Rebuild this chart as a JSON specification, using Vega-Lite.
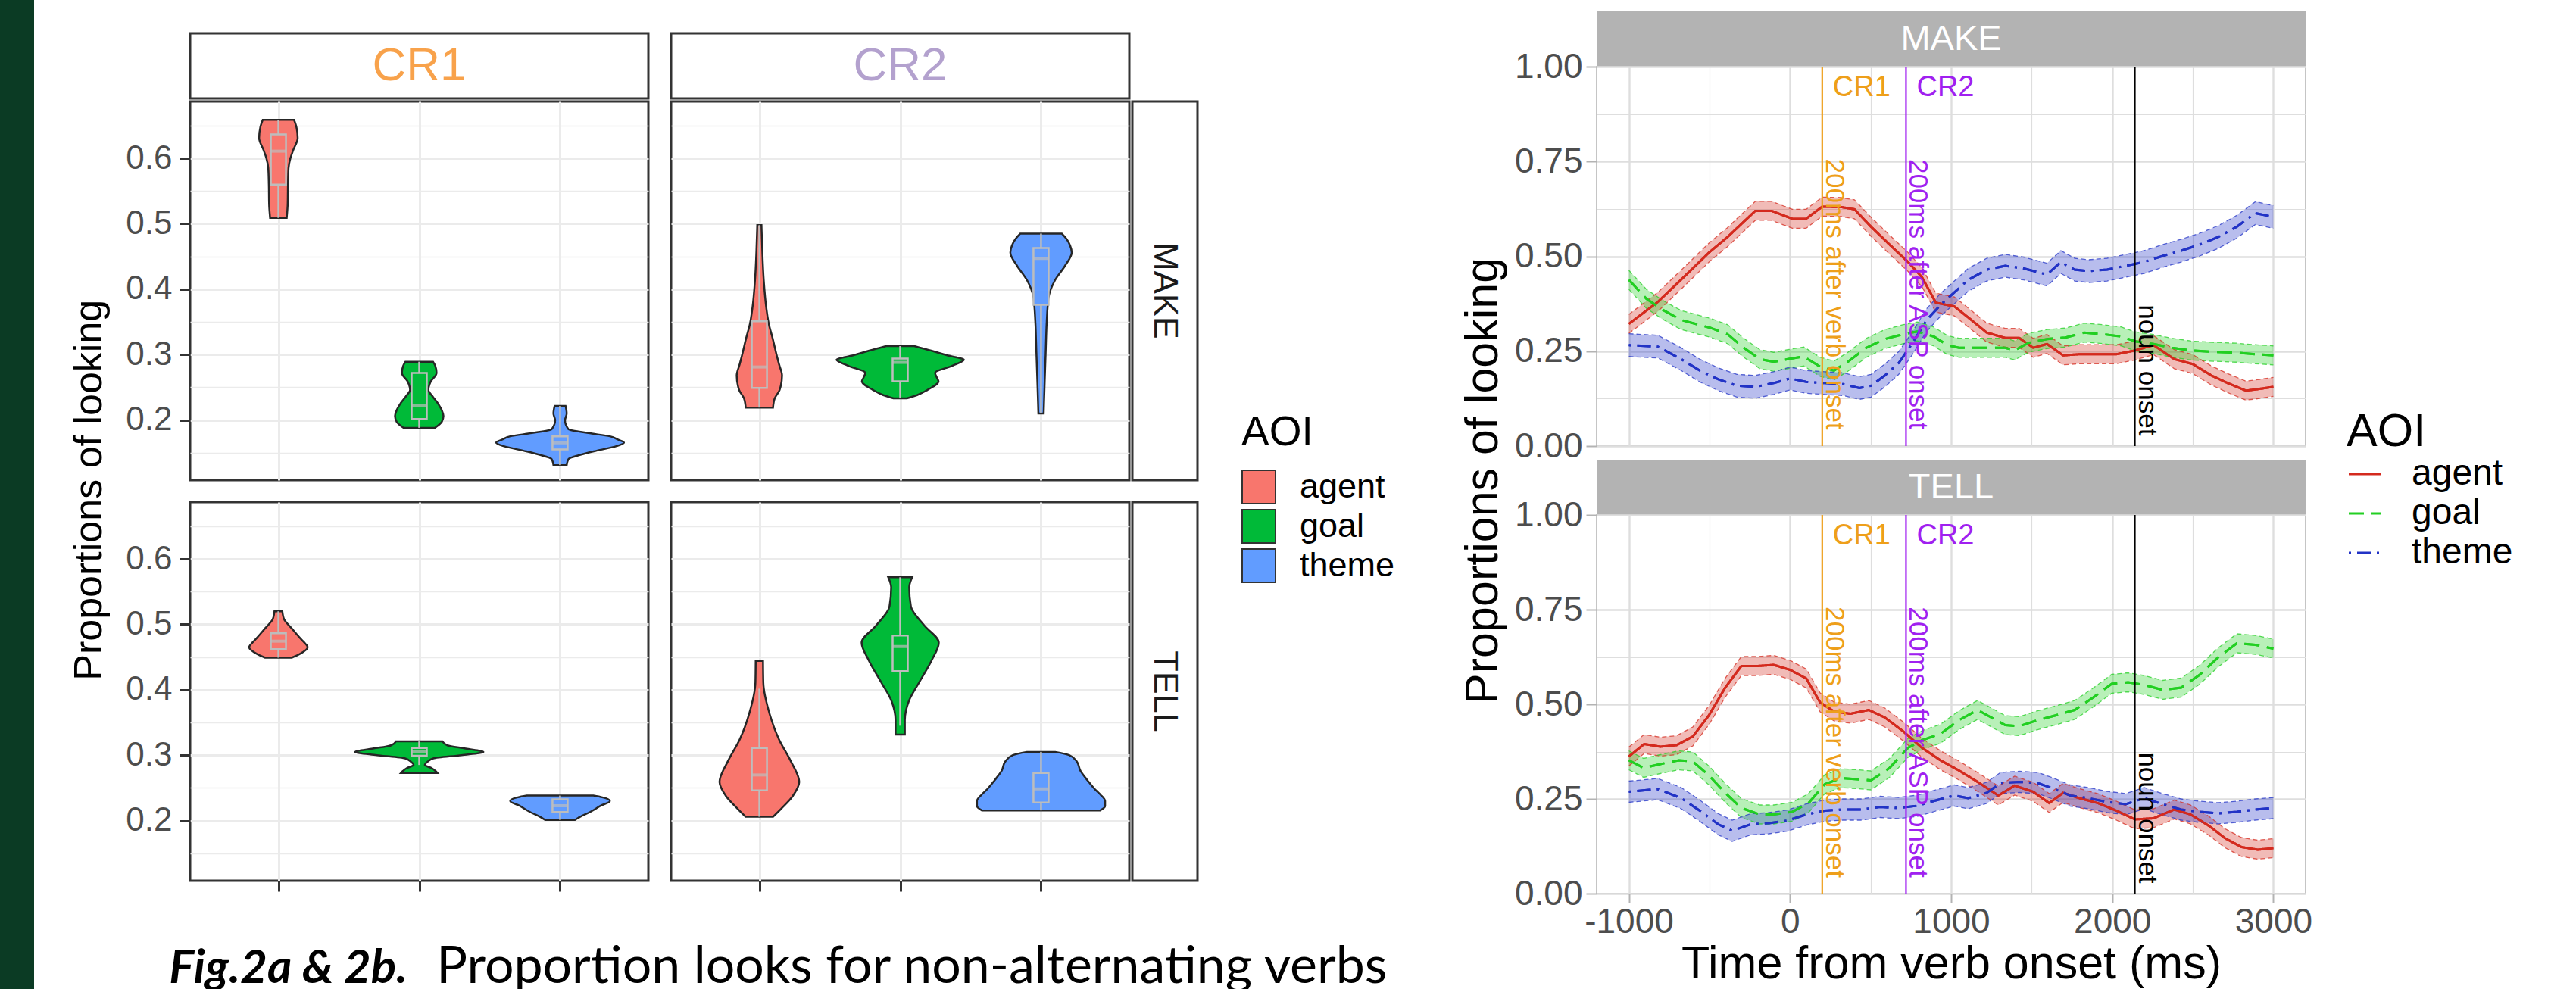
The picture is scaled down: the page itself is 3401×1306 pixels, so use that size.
{
"$schema":"https://vega.github.io/schema/vega-lite/v6.json",
"padding":0,
"background":"white",
"config":{"font":"Liberation Sans","view":{"stroke":null}},
"datasets":{
"violin":[
{"cr":"CR1","verb":"MAKE","aoi":"agent","p":0.509,"lo":0.941,"hi":1.059},
{"cr":"CR1","verb":"MAKE","aoi":"agent","p":0.53,"lo":0.934,"hi":1.066},
{"cr":"CR1","verb":"MAKE","aoi":"agent","p":0.56,"lo":0.932,"hi":1.068},
{"cr":"CR1","verb":"MAKE","aoi":"agent","p":0.585,"lo":0.928,"hi":1.072},
{"cr":"CR1","verb":"MAKE","aoi":"agent","p":0.6,"lo":0.915,"hi":1.085},
{"cr":"CR1","verb":"MAKE","aoi":"agent","p":0.613,"lo":0.894,"hi":1.106},
{"cr":"CR1","verb":"MAKE","aoi":"agent","p":0.631,"lo":0.863,"hi":1.137},
{"cr":"CR1","verb":"MAKE","aoi":"agent","p":0.648,"lo":0.872,"hi":1.128},
{"cr":"CR1","verb":"MAKE","aoi":"agent","p":0.659,"lo":0.889,"hi":1.111},
{"cr":"CR1","verb":"MAKE","aoi":"goal","p":0.188,"lo":1.889,"hi":2.111},
{"cr":"CR1","verb":"MAKE","aoi":"goal","p":0.197,"lo":1.84,"hi":2.16},
{"cr":"CR1","verb":"MAKE","aoi":"goal","p":0.206,"lo":1.828,"hi":2.172},
{"cr":"CR1","verb":"MAKE","aoi":"goal","p":0.215,"lo":1.84,"hi":2.16},
{"cr":"CR1","verb":"MAKE","aoi":"goal","p":0.224,"lo":1.863,"hi":2.137},
{"cr":"CR1","verb":"MAKE","aoi":"goal","p":0.236,"lo":1.905,"hi":2.095},
{"cr":"CR1","verb":"MAKE","aoi":"goal","p":0.246,"lo":1.935,"hi":2.065},
{"cr":"CR1","verb":"MAKE","aoi":"goal","p":0.258,"lo":1.92,"hi":2.08},
{"cr":"CR1","verb":"MAKE","aoi":"goal","p":0.272,"lo":1.877,"hi":2.123},
{"cr":"CR1","verb":"MAKE","aoi":"goal","p":0.282,"lo":1.885,"hi":2.115},
{"cr":"CR1","verb":"MAKE","aoi":"goal","p":0.289,"lo":1.902,"hi":2.098},
{"cr":"CR1","verb":"MAKE","aoi":"theme","p":0.131,"lo":2.953,"hi":3.047},
{"cr":"CR1","verb":"MAKE","aoi":"theme","p":0.14,"lo":2.941,"hi":3.059},
{"cr":"CR1","verb":"MAKE","aoi":"theme","p":0.147,"lo":2.85,"hi":3.15},
{"cr":"CR1","verb":"MAKE","aoi":"theme","p":0.153,"lo":2.74,"hi":3.26},
{"cr":"CR1","verb":"MAKE","aoi":"theme","p":0.16,"lo":2.6,"hi":3.4},
{"cr":"CR1","verb":"MAKE","aoi":"theme","p":0.1654,"lo":2.546,"hi":3.454},
{"cr":"CR1","verb":"MAKE","aoi":"theme","p":0.17,"lo":2.59,"hi":3.41},
{"cr":"CR1","verb":"MAKE","aoi":"theme","p":0.175,"lo":2.646,"hi":3.354},
{"cr":"CR1","verb":"MAKE","aoi":"theme","p":0.18,"lo":2.8,"hi":3.2},
{"cr":"CR1","verb":"MAKE","aoi":"theme","p":0.186,"lo":2.941,"hi":3.059},
{"cr":"CR1","verb":"MAKE","aoi":"theme","p":0.1995,"lo":2.965,"hi":3.035},
{"cr":"CR1","verb":"MAKE","aoi":"theme","p":0.21,"lo":2.953,"hi":3.047},
{"cr":"CR1","verb":"MAKE","aoi":"theme","p":0.2215,"lo":2.961,"hi":3.039},
{"cr":"CR2","verb":"MAKE","aoi":"agent","p":0.219,"lo":0.903,"hi":1.097},
{"cr":"CR2","verb":"MAKE","aoi":"agent","p":0.233,"lo":0.891,"hi":1.109},
{"cr":"CR2","verb":"MAKE","aoi":"agent","p":0.246,"lo":0.856,"hi":1.144},
{"cr":"CR2","verb":"MAKE","aoi":"agent","p":0.268,"lo":0.839,"hi":1.161},
{"cr":"CR2","verb":"MAKE","aoi":"agent","p":0.285,"lo":0.86,"hi":1.14},
{"cr":"CR2","verb":"MAKE","aoi":"agent","p":0.299,"lo":0.877,"hi":1.123},
{"cr":"CR2","verb":"MAKE","aoi":"agent","p":0.325,"lo":0.906,"hi":1.094},
{"cr":"CR2","verb":"MAKE","aoi":"agent","p":0.348,"lo":0.934,"hi":1.066},
{"cr":"CR2","verb":"MAKE","aoi":"agent","p":0.37,"lo":0.95,"hi":1.05},
{"cr":"CR2","verb":"MAKE","aoi":"agent","p":0.414,"lo":0.969,"hi":1.031},
{"cr":"CR2","verb":"MAKE","aoi":"agent","p":0.458,"lo":0.979,"hi":1.021},
{"cr":"CR2","verb":"MAKE","aoi":"agent","p":0.498,"lo":0.985,"hi":1.015},
{"cr":"CR2","verb":"MAKE","aoi":"goal","p":0.233,"lo":1.953,"hi":2.047},
{"cr":"CR2","verb":"MAKE","aoi":"goal","p":0.238,"lo":1.88,"hi":2.12},
{"cr":"CR2","verb":"MAKE","aoi":"goal","p":0.246,"lo":1.806,"hi":2.194},
{"cr":"CR2","verb":"MAKE","aoi":"goal","p":0.259,"lo":1.728,"hi":2.272},
{"cr":"CR2","verb":"MAKE","aoi":"goal","p":0.265,"lo":1.74,"hi":2.26},
{"cr":"CR2","verb":"MAKE","aoi":"goal","p":0.272,"lo":1.752,"hi":2.248},
{"cr":"CR2","verb":"MAKE","aoi":"goal","p":0.283,"lo":1.629,"hi":2.371},
{"cr":"CR2","verb":"MAKE","aoi":"goal","p":0.292,"lo":1.548,"hi":2.452},
{"cr":"CR2","verb":"MAKE","aoi":"goal","p":0.299,"lo":1.669,"hi":2.331},
{"cr":"CR2","verb":"MAKE","aoi":"goal","p":0.306,"lo":1.78,"hi":2.22},
{"cr":"CR2","verb":"MAKE","aoi":"goal","p":0.313,"lo":1.9,"hi":2.1},
{"cr":"CR2","verb":"MAKE","aoi":"theme","p":0.21,"lo":2.981,"hi":3.019},
{"cr":"CR2","verb":"MAKE","aoi":"theme","p":0.259,"lo":2.974,"hi":3.026},
{"cr":"CR2","verb":"MAKE","aoi":"theme","p":0.303,"lo":2.967,"hi":3.033},
{"cr":"CR2","verb":"MAKE","aoi":"theme","p":0.348,"lo":2.96,"hi":3.04},
{"cr":"CR2","verb":"MAKE","aoi":"theme","p":0.376,"lo":2.952,"hi":3.048},
{"cr":"CR2","verb":"MAKE","aoi":"theme","p":0.387,"lo":2.947,"hi":3.053},
{"cr":"CR2","verb":"MAKE","aoi":"theme","p":0.414,"lo":2.9,"hi":3.1},
{"cr":"CR2","verb":"MAKE","aoi":"theme","p":0.436,"lo":2.829,"hi":3.171},
{"cr":"CR2","verb":"MAKE","aoi":"theme","p":0.456,"lo":2.782,"hi":3.218},
{"cr":"CR2","verb":"MAKE","aoi":"theme","p":0.467,"lo":2.794,"hi":3.206},
{"cr":"CR2","verb":"MAKE","aoi":"theme","p":0.477,"lo":2.82,"hi":3.18},
{"cr":"CR2","verb":"MAKE","aoi":"theme","p":0.485,"lo":2.853,"hi":3.147},
{"cr":"CR1","verb":"TELL","aoi":"agent","p":0.449,"lo":0.906,"hi":1.094},
{"cr":"CR1","verb":"TELL","aoi":"agent","p":0.455,"lo":0.846,"hi":1.154},
{"cr":"CR1","verb":"TELL","aoi":"agent","p":0.465,"lo":0.792,"hi":1.208},
{"cr":"CR1","verb":"TELL","aoi":"agent","p":0.472,"lo":0.815,"hi":1.185},
{"cr":"CR1","verb":"TELL","aoi":"agent","p":0.479,"lo":0.846,"hi":1.154},
{"cr":"CR1","verb":"TELL","aoi":"agent","p":0.494,"lo":0.906,"hi":1.094},
{"cr":"CR1","verb":"TELL","aoi":"agent","p":0.508,"lo":0.96,"hi":1.04},
{"cr":"CR1","verb":"TELL","aoi":"agent","p":0.52,"lo":0.972,"hi":1.028},
{"cr":"CR1","verb":"TELL","aoi":"goal","p":0.2726,"lo":1.87,"hi":2.13},
{"cr":"CR1","verb":"TELL","aoi":"goal","p":0.28,"lo":1.91,"hi":2.09},
{"cr":"CR1","verb":"TELL","aoi":"goal","p":0.285,"lo":1.96,"hi":2.04},
{"cr":"CR1","verb":"TELL","aoi":"goal","p":0.29,"lo":1.94,"hi":2.06},
{"cr":"CR1","verb":"TELL","aoi":"goal","p":0.295,"lo":1.9,"hi":2.1},
{"cr":"CR1","verb":"TELL","aoi":"goal","p":0.3,"lo":1.7,"hi":2.3},
{"cr":"CR1","verb":"TELL","aoi":"goal","p":0.305,"lo":1.544,"hi":2.456},
{"cr":"CR1","verb":"TELL","aoi":"goal","p":0.31,"lo":1.67,"hi":2.33},
{"cr":"CR1","verb":"TELL","aoi":"goal","p":0.315,"lo":1.8,"hi":2.2},
{"cr":"CR1","verb":"TELL","aoi":"goal","p":0.321,"lo":1.835,"hi":2.165},
{"cr":"CR1","verb":"TELL","aoi":"theme","p":0.201,"lo":2.894,"hi":3.106},
{"cr":"CR1","verb":"TELL","aoi":"theme","p":0.2058,"lo":2.858,"hi":3.142},
{"cr":"CR1","verb":"TELL","aoi":"theme","p":0.2131,"lo":2.787,"hi":3.213},
{"cr":"CR1","verb":"TELL","aoi":"theme","p":0.2227,"lo":2.711,"hi":3.289},
{"cr":"CR1","verb":"TELL","aoi":"theme","p":0.23,"lo":2.646,"hi":3.354},
{"cr":"CR1","verb":"TELL","aoi":"theme","p":0.2355,"lo":2.7,"hi":3.3},
{"cr":"CR1","verb":"TELL","aoi":"theme","p":0.2382,"lo":2.764,"hi":3.236},
{"cr":"CR2","verb":"TELL","aoi":"agent","p":0.2058,"lo":0.903,"hi":1.097},
{"cr":"CR2","verb":"TELL","aoi":"agent","p":0.218,"lo":0.846,"hi":1.154},
{"cr":"CR2","verb":"TELL","aoi":"agent","p":0.2372,"lo":0.764,"hi":1.236},
{"cr":"CR2","verb":"TELL","aoi":"agent","p":0.259,"lo":0.717,"hi":1.283},
{"cr":"CR2","verb":"TELL","aoi":"agent","p":0.2905,"lo":0.776,"hi":1.224},
{"cr":"CR2","verb":"TELL","aoi":"agent","p":0.3243,"lo":0.861,"hi":1.139},
{"cr":"CR2","verb":"TELL","aoi":"agent","p":0.363,"lo":0.927,"hi":1.073},
{"cr":"CR2","verb":"TELL","aoi":"agent","p":0.4114,"lo":0.972,"hi":1.028},
{"cr":"CR2","verb":"TELL","aoi":"agent","p":0.444,"lo":0.974,"hi":1.026},
{"cr":"CR2","verb":"TELL","aoi":"goal","p":0.3316,"lo":1.967,"hi":2.033},
{"cr":"CR2","verb":"TELL","aoi":"goal","p":0.3534,"lo":1.967,"hi":2.033},
{"cr":"CR2","verb":"TELL","aoi":"goal","p":0.3824,"lo":1.939,"hi":2.061},
{"cr":"CR2","verb":"TELL","aoi":"goal","p":0.4114,"lo":1.865,"hi":2.135},
{"cr":"CR2","verb":"TELL","aoi":"goal","p":0.4453,"lo":1.776,"hi":2.224},
{"cr":"CR2","verb":"TELL","aoi":"goal","p":0.4719,"lo":1.726,"hi":2.274},
{"cr":"CR2","verb":"TELL","aoi":"goal","p":0.4985,"lo":1.83,"hi":2.17},
{"cr":"CR2","verb":"TELL","aoi":"goal","p":0.5275,"lo":1.924,"hi":2.076},
{"cr":"CR2","verb":"TELL","aoi":"goal","p":0.5566,"lo":1.936,"hi":2.064},
{"cr":"CR2","verb":"TELL","aoi":"goal","p":0.572,"lo":1.915,"hi":2.085},
{"cr":"CR2","verb":"TELL","aoi":"theme","p":0.2155,"lo":2.58,"hi":3.42},
{"cr":"CR2","verb":"TELL","aoi":"theme","p":0.222,"lo":2.545,"hi":3.455},
{"cr":"CR2","verb":"TELL","aoi":"theme","p":0.23,"lo":2.545,"hi":3.455},
{"cr":"CR2","verb":"TELL","aoi":"theme","p":0.24,"lo":2.58,"hi":3.42},
{"cr":"CR2","verb":"TELL","aoi":"theme","p":0.2484,"lo":2.62,"hi":3.38},
{"cr":"CR2","verb":"TELL","aoi":"theme","p":0.2615,"lo":2.67,"hi":3.33},
{"cr":"CR2","verb":"TELL","aoi":"theme","p":0.276,"lo":2.72,"hi":3.28},
{"cr":"CR2","verb":"TELL","aoi":"theme","p":0.2905,"lo":2.747,"hi":3.253},
{"cr":"CR2","verb":"TELL","aoi":"theme","p":0.3,"lo":2.8,"hi":3.2},
{"cr":"CR2","verb":"TELL","aoi":"theme","p":0.305,"lo":2.9,"hi":3.1}
],
"box":[
{"cr":"CR1","verb":"MAKE","aoi":"agent","pos":1,"wlo":0.509,"q1":0.56,"med":0.611,"q3":0.6365,"whi":0.659},
{"cr":"CR1","verb":"MAKE","aoi":"goal","pos":2,"wlo":0.188,"q1":0.2016,"med":0.2215,"q3":0.272,"whi":0.289},
{"cr":"CR1","verb":"MAKE","aoi":"theme","pos":3,"wlo":0.131,"q1":0.155,"med":0.165,"q3":0.175,"whi":0.2215},
{"cr":"CR2","verb":"MAKE","aoi":"agent","pos":1,"wlo":0.219,"q1":0.249,"med":0.281,"q3":0.351,"whi":0.498},
{"cr":"CR2","verb":"MAKE","aoi":"goal","pos":2,"wlo":0.233,"q1":0.259,"med":0.288,"q3":0.294,"whi":0.313},
{"cr":"CR2","verb":"MAKE","aoi":"theme","pos":3,"wlo":0.21,"q1":0.376,"med":0.447,"q3":0.463,"whi":0.485},
{"cr":"CR1","verb":"TELL","aoi":"agent","pos":1,"wlo":0.449,"q1":0.4622,"med":0.4743,"q3":0.4864,"whi":0.52},
{"cr":"CR1","verb":"TELL","aoi":"goal","pos":2,"wlo":0.285,"q1":0.299,"med":0.306,"q3":0.311,"whi":0.321},
{"cr":"CR1","verb":"TELL","aoi":"theme","pos":3,"wlo":0.201,"q1":0.2131,"med":0.2227,"q3":0.2324,"whi":0.2382},
{"cr":"CR2","verb":"TELL","aoi":"agent","pos":1,"wlo":0.2058,"q1":0.246,"med":0.2697,"q3":0.3108,"whi":0.4017},
{"cr":"CR2","verb":"TELL","aoi":"goal","pos":2,"wlo":0.345,"q1":0.4284,"med":0.4661,"q3":0.483,"whi":0.572},
{"cr":"CR2","verb":"TELL","aoi":"theme","pos":3,"wlo":0.2155,"q1":0.2276,"med":0.2484,"q3":0.2726,"whi":0.305}
],
"events":[
{"event":"CR1","t":200,"top":"CR1","side":"200ms after verb onset","ytop":0.945,"yside":0.4},
{"event":"CR2","t":720,"top":"CR2","side":"200ms after ASP onset","ytop":0.945,"yside":0.4},
{"event":"noun","t":2140,"top":"","side":"noun onset","ytop":0.945,"yside":0.2}
],
"lines":[
{"verb":"MAKE","aoi":"agent","t":-1000,"p":0.322,"e":0.025},{"verb":"MAKE","aoi":"agent","t":-820,"p":0.38,"e":0.025},{"verb":"MAKE","aoi":"agent","t":-660,"p":0.445,"e":0.025},{"verb":"MAKE","aoi":"agent","t":-500,"p":0.511,"e":0.025},{"verb":"MAKE","aoi":"agent","t":-390,"p":0.55,"e":0.025},{"verb":"MAKE","aoi":"agent","t":-215,"p":0.62,"e":0.025},{"verb":"MAKE","aoi":"agent","t":-115,"p":0.62,"e":0.025},{"verb":"MAKE","aoi":"agent","t":15,"p":0.599,"e":0.025},{"verb":"MAKE","aoi":"agent","t":100,"p":0.599,"e":0.025},{"verb":"MAKE","aoi":"agent","t":200,"p":0.631,"e":0.025},{"verb":"MAKE","aoi":"agent","t":316,"p":0.63,"e":0.025},{"verb":"MAKE","aoi":"agent","t":400,"p":0.624,"e":0.025},{"verb":"MAKE","aoi":"agent","t":503,"p":0.578,"e":0.025},{"verb":"MAKE","aoi":"agent","t":618,"p":0.531,"e":0.025},{"verb":"MAKE","aoi":"agent","t":733,"p":0.485,"e":0.025},{"verb":"MAKE","aoi":"agent","t":819,"p":0.445,"e":0.025},{"verb":"MAKE","aoi":"agent","t":905,"p":0.378,"e":0.025},{"verb":"MAKE","aoi":"agent","t":1020,"p":0.368,"e":0.025},{"verb":"MAKE","aoi":"agent","t":1106,"p":0.339,"e":0.025},{"verb":"MAKE","aoi":"agent","t":1221,"p":0.299,"e":0.025},{"verb":"MAKE","aoi":"agent","t":1336,"p":0.285,"e":0.025},{"verb":"MAKE","aoi":"agent","t":1422,"p":0.285,"e":0.025},{"verb":"MAKE","aoi":"agent","t":1509,"p":0.259,"e":0.025},{"verb":"MAKE","aoi":"agent","t":1595,"p":0.269,"e":0.025},{"verb":"MAKE","aoi":"agent","t":1695,"p":0.239,"e":0.025},{"verb":"MAKE","aoi":"agent","t":1796,"p":0.242,"e":0.025},{"verb":"MAKE","aoi":"agent","t":1911,"p":0.242,"e":0.025},{"verb":"MAKE","aoi":"agent","t":2026,"p":0.242,"e":0.025},{"verb":"MAKE","aoi":"agent","t":2141,"p":0.252,"e":0.025},{"verb":"MAKE","aoi":"agent","t":2256,"p":0.266,"e":0.025},{"verb":"MAKE","aoi":"agent","t":2385,"p":0.229,"e":0.025},{"verb":"MAKE","aoi":"agent","t":2500,"p":0.216,"e":0.025},{"verb":"MAKE","aoi":"agent","t":2615,"p":0.186,"e":0.025},{"verb":"MAKE","aoi":"agent","t":2716,"p":0.166,"e":0.025},{"verb":"MAKE","aoi":"agent","t":2830,"p":0.146,"e":0.025},{"verb":"MAKE","aoi":"agent","t":2888,"p":0.149,"e":0.025},{"verb":"MAKE","aoi":"agent","t":3000,"p":0.156,"e":0.025},
{"verb":"MAKE","aoi":"goal","t":-1000,"p":0.438,"e":0.025},{"verb":"MAKE","aoi":"goal","t":-891,"p":0.388,"e":0.025},{"verb":"MAKE","aoi":"goal","t":-790,"p":0.359,"e":0.025},{"verb":"MAKE","aoi":"goal","t":-675,"p":0.332,"e":0.025},{"verb":"MAKE","aoi":"goal","t":-497,"p":0.312,"e":0.025},{"verb":"MAKE","aoi":"goal","t":-388,"p":0.295,"e":0.025},{"verb":"MAKE","aoi":"goal","t":-287,"p":0.259,"e":0.025},{"verb":"MAKE","aoi":"goal","t":-187,"p":0.229,"e":0.025},{"verb":"MAKE","aoi":"goal","t":-101,"p":0.222,"e":0.025},{"verb":"MAKE","aoi":"goal","t":-14,"p":0.229,"e":0.025},{"verb":"MAKE","aoi":"goal","t":86,"p":0.236,"e":0.025},{"verb":"MAKE","aoi":"goal","t":187,"p":0.209,"e":0.025},{"verb":"MAKE","aoi":"goal","t":273,"p":0.199,"e":0.025},{"verb":"MAKE","aoi":"goal","t":359,"p":0.222,"e":0.025},{"verb":"MAKE","aoi":"goal","t":474,"p":0.259,"e":0.025},{"verb":"MAKE","aoi":"goal","t":589,"p":0.282,"e":0.025},{"verb":"MAKE","aoi":"goal","t":704,"p":0.295,"e":0.025},{"verb":"MAKE","aoi":"goal","t":790,"p":0.302,"e":0.025},{"verb":"MAKE","aoi":"goal","t":891,"p":0.289,"e":0.025},{"verb":"MAKE","aoi":"goal","t":977,"p":0.266,"e":0.025},{"verb":"MAKE","aoi":"goal","t":1049,"p":0.259,"e":0.025},{"verb":"MAKE","aoi":"goal","t":1193,"p":0.259,"e":0.025},{"verb":"MAKE","aoi":"goal","t":1336,"p":0.259,"e":0.025},{"verb":"MAKE","aoi":"goal","t":1394,"p":0.252,"e":0.025},{"verb":"MAKE","aoi":"goal","t":1480,"p":0.272,"e":0.025},{"verb":"MAKE","aoi":"goal","t":1595,"p":0.282,"e":0.025},{"verb":"MAKE","aoi":"goal","t":1710,"p":0.286,"e":0.025},{"verb":"MAKE","aoi":"goal","t":1825,"p":0.299,"e":0.025},{"verb":"MAKE","aoi":"goal","t":1940,"p":0.295,"e":0.025},{"verb":"MAKE","aoi":"goal","t":2055,"p":0.289,"e":0.025},{"verb":"MAKE","aoi":"goal","t":2141,"p":0.276,"e":0.025},{"verb":"MAKE","aoi":"goal","t":2256,"p":0.269,"e":0.025},{"verb":"MAKE","aoi":"goal","t":2371,"p":0.259,"e":0.025},{"verb":"MAKE","aoi":"goal","t":2486,"p":0.252,"e":0.025},{"verb":"MAKE","aoi":"goal","t":2600,"p":0.249,"e":0.025},{"verb":"MAKE","aoi":"goal","t":2773,"p":0.246,"e":0.025},{"verb":"MAKE","aoi":"goal","t":2888,"p":0.242,"e":0.025},{"verb":"MAKE","aoi":"goal","t":3000,"p":0.239,"e":0.025},
{"verb":"MAKE","aoi":"theme","t":-1000,"p":0.266,"e":0.03},{"verb":"MAKE","aoi":"theme","t":-820,"p":0.262,"e":0.03},{"verb":"MAKE","aoi":"theme","t":-675,"p":0.229,"e":0.03},{"verb":"MAKE","aoi":"theme","t":-560,"p":0.199,"e":0.03},{"verb":"MAKE","aoi":"theme","t":-445,"p":0.176,"e":0.03},{"verb":"MAKE","aoi":"theme","t":-330,"p":0.159,"e":0.03},{"verb":"MAKE","aoi":"theme","t":-215,"p":0.156,"e":0.03},{"verb":"MAKE","aoi":"theme","t":-101,"p":0.166,"e":0.03},{"verb":"MAKE","aoi":"theme","t":0,"p":0.178,"e":0.03},{"verb":"MAKE","aoi":"theme","t":101,"p":0.169,"e":0.03},{"verb":"MAKE","aoi":"theme","t":216,"p":0.166,"e":0.03},{"verb":"MAKE","aoi":"theme","t":330,"p":0.163,"e":0.03},{"verb":"MAKE","aoi":"theme","t":431,"p":0.153,"e":0.03},{"verb":"MAKE","aoi":"theme","t":503,"p":0.159,"e":0.03},{"verb":"MAKE","aoi":"theme","t":589,"p":0.186,"e":0.03},{"verb":"MAKE","aoi":"theme","t":675,"p":0.219,"e":0.03},{"verb":"MAKE","aoi":"theme","t":761,"p":0.272,"e":0.03},{"verb":"MAKE","aoi":"theme","t":848,"p":0.332,"e":0.03},{"verb":"MAKE","aoi":"theme","t":934,"p":0.372,"e":0.03},{"verb":"MAKE","aoi":"theme","t":1020,"p":0.405,"e":0.03},{"verb":"MAKE","aoi":"theme","t":1106,"p":0.438,"e":0.03},{"verb":"MAKE","aoi":"theme","t":1221,"p":0.465,"e":0.03},{"verb":"MAKE","aoi":"theme","t":1336,"p":0.475,"e":0.03},{"verb":"MAKE","aoi":"theme","t":1451,"p":0.468,"e":0.03},{"verb":"MAKE","aoi":"theme","t":1595,"p":0.452,"e":0.03},{"verb":"MAKE","aoi":"theme","t":1681,"p":0.485,"e":0.03},{"verb":"MAKE","aoi":"theme","t":1767,"p":0.465,"e":0.03},{"verb":"MAKE","aoi":"theme","t":1853,"p":0.461,"e":0.03},{"verb":"MAKE","aoi":"theme","t":1968,"p":0.465,"e":0.03},{"verb":"MAKE","aoi":"theme","t":2083,"p":0.475,"e":0.03},{"verb":"MAKE","aoi":"theme","t":2198,"p":0.485,"e":0.03},{"verb":"MAKE","aoi":"theme","t":2313,"p":0.501,"e":0.03},{"verb":"MAKE","aoi":"theme","t":2428,"p":0.515,"e":0.03},{"verb":"MAKE","aoi":"theme","t":2543,"p":0.531,"e":0.03},{"verb":"MAKE","aoi":"theme","t":2658,"p":0.551,"e":0.03},{"verb":"MAKE","aoi":"theme","t":2773,"p":0.578,"e":0.03},{"verb":"MAKE","aoi":"theme","t":2888,"p":0.614,"e":0.03},{"verb":"MAKE","aoi":"theme","t":3000,"p":0.604,"e":0.03},
{"verb":"TELL","aoi":"agent","t":-1000,"p":0.362,"e":0.025},{"verb":"TELL","aoi":"agent","t":-905,"p":0.395,"e":0.025},{"verb":"TELL","aoi":"agent","t":-805,"p":0.388,"e":0.025},{"verb":"TELL","aoi":"agent","t":-704,"p":0.392,"e":0.025},{"verb":"TELL","aoi":"agent","t":-603,"p":0.415,"e":0.025},{"verb":"TELL","aoi":"agent","t":-503,"p":0.471,"e":0.025},{"verb":"TELL","aoi":"agent","t":-402,"p":0.544,"e":0.025},{"verb":"TELL","aoi":"agent","t":-302,"p":0.601,"e":0.025},{"verb":"TELL","aoi":"agent","t":-201,"p":0.601,"e":0.025},{"verb":"TELL","aoi":"agent","t":-101,"p":0.604,"e":0.025},{"verb":"TELL","aoi":"agent","t":0,"p":0.591,"e":0.025},{"verb":"TELL","aoi":"agent","t":101,"p":0.568,"e":0.025},{"verb":"TELL","aoi":"agent","t":187,"p":0.505,"e":0.025},{"verb":"TELL","aoi":"agent","t":273,"p":0.481,"e":0.025},{"verb":"TELL","aoi":"agent","t":374,"p":0.475,"e":0.025},{"verb":"TELL","aoi":"agent","t":489,"p":0.485,"e":0.025},{"verb":"TELL","aoi":"agent","t":589,"p":0.465,"e":0.025},{"verb":"TELL","aoi":"agent","t":704,"p":0.428,"e":0.025},{"verb":"TELL","aoi":"agent","t":819,"p":0.385,"e":0.025},{"verb":"TELL","aoi":"agent","t":934,"p":0.352,"e":0.025},{"verb":"TELL","aoi":"agent","t":1049,"p":0.325,"e":0.025},{"verb":"TELL","aoi":"agent","t":1164,"p":0.295,"e":0.025},{"verb":"TELL","aoi":"agent","t":1293,"p":0.259,"e":0.025},{"verb":"TELL","aoi":"agent","t":1394,"p":0.285,"e":0.025},{"verb":"TELL","aoi":"agent","t":1509,"p":0.269,"e":0.025},{"verb":"TELL","aoi":"agent","t":1609,"p":0.239,"e":0.025},{"verb":"TELL","aoi":"agent","t":1695,"p":0.266,"e":0.025},{"verb":"TELL","aoi":"agent","t":1796,"p":0.252,"e":0.025},{"verb":"TELL","aoi":"agent","t":1911,"p":0.239,"e":0.025},{"verb":"TELL","aoi":"agent","t":2026,"p":0.219,"e":0.025},{"verb":"TELL","aoi":"agent","t":2141,"p":0.196,"e":0.025},{"verb":"TELL","aoi":"agent","t":2256,"p":0.199,"e":0.025},{"verb":"TELL","aoi":"agent","t":2385,"p":0.222,"e":0.025},{"verb":"TELL","aoi":"agent","t":2486,"p":0.209,"e":0.025},{"verb":"TELL","aoi":"agent","t":2600,"p":0.179,"e":0.025},{"verb":"TELL","aoi":"agent","t":2701,"p":0.146,"e":0.025},{"verb":"TELL","aoi":"agent","t":2802,"p":0.123,"e":0.025},{"verb":"TELL","aoi":"agent","t":2902,"p":0.116,"e":0.025},{"verb":"TELL","aoi":"agent","t":3000,"p":0.12,"e":0.025},
{"verb":"TELL","aoi":"goal","t":-1000,"p":0.352,"e":0.025},{"verb":"TELL","aoi":"goal","t":-908,"p":0.332,"e":0.025},{"verb":"TELL","aoi":"goal","t":-805,"p":0.342,"e":0.025},{"verb":"TELL","aoi":"goal","t":-690,"p":0.352,"e":0.025},{"verb":"TELL","aoi":"goal","t":-603,"p":0.349,"e":0.025},{"verb":"TELL","aoi":"goal","t":-503,"p":0.312,"e":0.025},{"verb":"TELL","aoi":"goal","t":-402,"p":0.266,"e":0.025},{"verb":"TELL","aoi":"goal","t":-302,"p":0.226,"e":0.025},{"verb":"TELL","aoi":"goal","t":-187,"p":0.209,"e":0.025},{"verb":"TELL","aoi":"goal","t":-101,"p":0.209,"e":0.025},{"verb":"TELL","aoi":"goal","t":14,"p":0.216,"e":0.025},{"verb":"TELL","aoi":"goal","t":115,"p":0.239,"e":0.025},{"verb":"TELL","aoi":"goal","t":216,"p":0.289,"e":0.025},{"verb":"TELL","aoi":"goal","t":316,"p":0.305,"e":0.025},{"verb":"TELL","aoi":"goal","t":417,"p":0.302,"e":0.025},{"verb":"TELL","aoi":"goal","t":503,"p":0.299,"e":0.025},{"verb":"TELL","aoi":"goal","t":618,"p":0.332,"e":0.025},{"verb":"TELL","aoi":"goal","t":733,"p":0.385,"e":0.025},{"verb":"TELL","aoi":"goal","t":819,"p":0.405,"e":0.025},{"verb":"TELL","aoi":"goal","t":934,"p":0.422,"e":0.025},{"verb":"TELL","aoi":"goal","t":1049,"p":0.458,"e":0.025},{"verb":"TELL","aoi":"goal","t":1164,"p":0.485,"e":0.025},{"verb":"TELL","aoi":"goal","t":1250,"p":0.465,"e":0.025},{"verb":"TELL","aoi":"goal","t":1336,"p":0.445,"e":0.025},{"verb":"TELL","aoi":"goal","t":1422,"p":0.442,"e":0.025},{"verb":"TELL","aoi":"goal","t":1537,"p":0.458,"e":0.025},{"verb":"TELL","aoi":"goal","t":1652,"p":0.471,"e":0.025},{"verb":"TELL","aoi":"goal","t":1767,"p":0.485,"e":0.025},{"verb":"TELL","aoi":"goal","t":1882,"p":0.518,"e":0.025},{"verb":"TELL","aoi":"goal","t":1997,"p":0.554,"e":0.025},{"verb":"TELL","aoi":"goal","t":2098,"p":0.558,"e":0.025},{"verb":"TELL","aoi":"goal","t":2198,"p":0.551,"e":0.025},{"verb":"TELL","aoi":"goal","t":2313,"p":0.538,"e":0.025},{"verb":"TELL","aoi":"goal","t":2428,"p":0.544,"e":0.025},{"verb":"TELL","aoi":"goal","t":2543,"p":0.578,"e":0.025},{"verb":"TELL","aoi":"goal","t":2658,"p":0.624,"e":0.025},{"verb":"TELL","aoi":"goal","t":2773,"p":0.661,"e":0.025},{"verb":"TELL","aoi":"goal","t":2888,"p":0.657,"e":0.025},{"verb":"TELL","aoi":"goal","t":3000,"p":0.647,"e":0.025},
{"verb":"TELL","aoi":"theme","t":-1000,"p":0.269,"e":0.028},{"verb":"TELL","aoi":"theme","t":-820,"p":0.276,"e":0.028},{"verb":"TELL","aoi":"theme","t":-675,"p":0.252,"e":0.028},{"verb":"TELL","aoi":"theme","t":-560,"p":0.219,"e":0.028},{"verb":"TELL","aoi":"theme","t":-445,"p":0.183,"e":0.028},{"verb":"TELL","aoi":"theme","t":-359,"p":0.166,"e":0.028},{"verb":"TELL","aoi":"theme","t":-244,"p":0.183,"e":0.028},{"verb":"TELL","aoi":"theme","t":-129,"p":0.186,"e":0.028},{"verb":"TELL","aoi":"theme","t":-14,"p":0.193,"e":0.028},{"verb":"TELL","aoi":"theme","t":101,"p":0.209,"e":0.028},{"verb":"TELL","aoi":"theme","t":216,"p":0.219,"e":0.028},{"verb":"TELL","aoi":"theme","t":330,"p":0.222,"e":0.028},{"verb":"TELL","aoi":"theme","t":445,"p":0.222,"e":0.028},{"verb":"TELL","aoi":"theme","t":560,"p":0.229,"e":0.028},{"verb":"TELL","aoi":"theme","t":675,"p":0.226,"e":0.028},{"verb":"TELL","aoi":"theme","t":790,"p":0.232,"e":0.028},{"verb":"TELL","aoi":"theme","t":905,"p":0.246,"e":0.028},{"verb":"TELL","aoi":"theme","t":1020,"p":0.259,"e":0.028},{"verb":"TELL","aoi":"theme","t":1106,"p":0.252,"e":0.028},{"verb":"TELL","aoi":"theme","t":1221,"p":0.266,"e":0.028},{"verb":"TELL","aoi":"theme","t":1307,"p":0.292,"e":0.028},{"verb":"TELL","aoi":"theme","t":1422,"p":0.295,"e":0.028},{"verb":"TELL","aoi":"theme","t":1537,"p":0.292,"e":0.028},{"verb":"TELL","aoi":"theme","t":1624,"p":0.279,"e":0.028},{"verb":"TELL","aoi":"theme","t":1739,"p":0.259,"e":0.028},{"verb":"TELL","aoi":"theme","t":1853,"p":0.252,"e":0.028},{"verb":"TELL","aoi":"theme","t":1968,"p":0.242,"e":0.028},{"verb":"TELL","aoi":"theme","t":2083,"p":0.236,"e":0.028},{"verb":"TELL","aoi":"theme","t":2198,"p":0.252,"e":0.028},{"verb":"TELL","aoi":"theme","t":2313,"p":0.236,"e":0.028},{"verb":"TELL","aoi":"theme","t":2428,"p":0.222,"e":0.028},{"verb":"TELL","aoi":"theme","t":2543,"p":0.216,"e":0.028},{"verb":"TELL","aoi":"theme","t":2658,"p":0.212,"e":0.028},{"verb":"TELL","aoi":"theme","t":2773,"p":0.216,"e":0.028},{"verb":"TELL","aoi":"theme","t":2888,"p":0.222,"e":0.028},{"verb":"TELL","aoi":"theme","t":3000,"p":0.226,"e":0.028}
]
},
"spacing":47,
"hconcat":[
{"width":45,"height":1306,"view":{"fill":"#0b3b24","stroke":null},"data":{"values":[]},"mark":"text"},
{"spacing":92,"hconcat":[
{"spacing":0,
 "title":{"text":"Fig.2a & 2b.","orient":"bottom","anchor":"start","frame":"bounds","offset":-63,"dx":131,"font":"Lato","fontSize":62,"fontStyle":"italic","fontWeight":"bold","color":"#000000"},
 "vconcat":[
 {"spacing":0,
  "title":{"text":"Proportion looks for non-alternating verbs","orient":"bottom","anchor":"start","frame":"bounds","offset":64,"dx":484,"font":"Lato","fontSize":68,"fontWeight":"normal","color":"#000000"},
  "vconcat":[
  {"width":10,"height":42,"data":{"values":[]},"mark":"text","view":{"stroke":null}},
  {"columns":3,"spacing":{"row":0,"column":0},"align":"each",
   "title":{"text":"Proportions of looking","orient":"left","anchor":"middle","frame":"bounds","fontSize":52,"fontWeight":"normal","color":"#000000","offset":19,"dx":-36},
   "concat":[
   {"width":605,"height":86,"view":{"stroke":"#333333","strokeWidth":3,"fill":"#ffffff"},"data":{"values":[{"label":"CR1"}]},"mark":{"type":"text","fontSize":62,"color":"#F8A24B"},"encoding":{"text":{"field":"label"}}},
   {"width":605,"height":86,"view":{"stroke":"#333333","strokeWidth":3,"fill":"#ffffff"},"data":{"values":[{"label":"CR2"}]},"mark":{"type":"text","fontSize":62,"color":"#B3A1CE"},"encoding":{"text":{"field":"label"}}},
   {"width":86,"height":86,"data":{"values":[]},"mark":"text","view":{"stroke":null}},
   {"width":605,"height":500,"view":{"stroke":"#333333","strokeWidth":3},"layer":[
    {"data":{"name":"violin"},"transform":[{"filter":"datum.cr == 'CR1' && datum.verb == 'MAKE'"}],"mark":{"type":"area","orient":"horizontal","interpolate":"monotone","stroke":"#262626","strokeWidth":2.5,"opacity":1},
     "encoding":{"y":{"field":"p","type":"quantitative","scale":{"domain":[0.108,0.687],"nice":false,"zero":false},"axis":{"title":null,"values":[0.15,0.2,0.25,0.3,0.35,0.4,0.45,0.5,0.55,0.6,0.65],"labelExpr":"round(datum.value*100) % 10 == 0 ? format(datum.value, '.1f') : ''","labelFontSize":44,"labelColor":"#4d4d4d","labelPadding":10,"labelOverlap":false,"tickSize":14,"tickWidth":3,"tickColor":"#333333","tickOpacity":{"condition":{"test":"round(datum.value*100) % 10 != 0","value":0},"value":1},"domain":false,"grid":true,"gridColor":"#ebebeb","gridWidth":{"condition":{"test":"round(datum.value*100) % 10 != 0","value":1.5},"value":3}}},
      "x":{"field":"lo","type":"quantitative","stack":null,"scale":{"domain":[0.4,3.6],"nice":false,"zero":false},"axis":{"title":null,"values":[1,2,3],"labels":false,"tickSize":25,"tickColor":"transparent","domain":false,"grid":true,"gridColor":"#ebebeb","gridWidth":3}},
      "x2":{"field":"hi"},
      "fill":{"field":"aoi","type":"nominal","scale":{"domain":["agent","goal","theme"],"range":["#F8766D","#00BA38","#619CFF"]},"legend":{"title":"AOI","orient":"none","legendX":1639,"legendY":545,"padding":0,"titleFontSize":55,"titleFontWeight":"normal","titleColor":"#000000","titlePadding":20,"labelFontSize":45,"labelColor":"#000000","labelOffset":31,"symbolType":"square","symbolSize":1936,"symbolStrokeColor":"#333333","symbolStrokeWidth":2,"symbolOpacity":1,"rowPadding":0}}}},
    {"data":{"name":"box"},"transform":[{"filter":"datum.cr == 'CR1' && datum.verb == 'MAKE'"}],"mark":{"type":"rule","color":"#bdbdbd","strokeWidth":2.5},
     "encoding":{"x":{"field":"pos","type":"quantitative","scale":{"domain":[0.4,3.6],"nice":false,"zero":false}},"y":{"field":"wlo","type":"quantitative","scale":{"domain":[0.108,0.687],"nice":false,"zero":false}},"y2":{"field":"whi"}}},
    {"data":{"name":"box"},"transform":[{"filter":"datum.cr == 'CR1' && datum.verb == 'MAKE'"}],"mark":{"type":"bar","orient":"vertical","size":20,"stroke":"#bdbdbd","strokeWidth":2.5,"fillOpacity":1},
     "encoding":{"x":{"field":"pos","type":"quantitative","scale":{"domain":[0.4,3.6],"nice":false,"zero":false}},"y":{"field":"q1","type":"quantitative","scale":{"domain":[0.108,0.687],"nice":false,"zero":false}},"y2":{"field":"q3"},"fill":{"field":"aoi","type":"nominal","scale":{"domain":["agent","goal","theme"],"range":["#F8766D","#00BA38","#619CFF"]},"legend":null}}},
    {"data":{"name":"box"},"transform":[{"filter":"datum.cr == 'CR1' && datum.verb == 'MAKE'"}],"mark":{"type":"tick","orient":"horizontal","color":"#bdbdbd","thickness":4,"size":20},
     "encoding":{"x":{"field":"pos","type":"quantitative","scale":{"domain":[0.4,3.6],"nice":false,"zero":false}},"y":{"field":"med","type":"quantitative","scale":{"domain":[0.108,0.687],"nice":false,"zero":false}}}}
   ]},
   {"width":605,"height":500,"view":{"stroke":"#333333","strokeWidth":3},"layer":[
    {"data":{"name":"violin"},"transform":[{"filter":"datum.cr == 'CR2' && datum.verb == 'MAKE'"}],"mark":{"type":"area","orient":"horizontal","interpolate":"monotone","stroke":"#262626","strokeWidth":2.5,"opacity":1},
     "encoding":{"y":{"field":"p","type":"quantitative","scale":{"domain":[0.108,0.687],"nice":false,"zero":false},"axis":{"title":null,"values":[0.15,0.2,0.25,0.3,0.35,0.4,0.45,0.5,0.55,0.6,0.65],"labels":false,"tickSize":26,"tickColor":"transparent","domain":false,"grid":true,"gridColor":"#ebebeb","gridWidth":{"condition":{"test":"round(datum.value*100) % 10 != 0","value":1.5},"value":3}}},
      "x":{"field":"lo","type":"quantitative","stack":null,"scale":{"domain":[0.4,3.6],"nice":false,"zero":false},"axis":{"title":null,"values":[1,2,3],"labels":false,"tickSize":25,"tickColor":"transparent","domain":false,"grid":true,"gridColor":"#ebebeb","gridWidth":3}},
      "x2":{"field":"hi"},
      "fill":{"field":"aoi","type":"nominal","scale":{"domain":["agent","goal","theme"],"range":["#F8766D","#00BA38","#619CFF"]},"legend":{"title":"AOI","orient":"none","legendX":1639,"legendY":545,"padding":0,"titleFontSize":55,"titleFontWeight":"normal","titleColor":"#000000","titlePadding":20,"labelFontSize":45,"labelColor":"#000000","labelOffset":31,"symbolType":"square","symbolSize":1936,"symbolStrokeColor":"#333333","symbolStrokeWidth":2,"symbolOpacity":1,"rowPadding":0}}}},
    {"data":{"name":"box"},"transform":[{"filter":"datum.cr == 'CR2' && datum.verb == 'MAKE'"}],"mark":{"type":"rule","color":"#bdbdbd","strokeWidth":2.5},
     "encoding":{"x":{"field":"pos","type":"quantitative","scale":{"domain":[0.4,3.6],"nice":false,"zero":false}},"y":{"field":"wlo","type":"quantitative","scale":{"domain":[0.108,0.687],"nice":false,"zero":false}},"y2":{"field":"whi"}}},
    {"data":{"name":"box"},"transform":[{"filter":"datum.cr == 'CR2' && datum.verb == 'MAKE'"}],"mark":{"type":"bar","orient":"vertical","size":20,"stroke":"#bdbdbd","strokeWidth":2.5,"fillOpacity":1},
     "encoding":{"x":{"field":"pos","type":"quantitative","scale":{"domain":[0.4,3.6],"nice":false,"zero":false}},"y":{"field":"q1","type":"quantitative","scale":{"domain":[0.108,0.687],"nice":false,"zero":false}},"y2":{"field":"q3"},"fill":{"field":"aoi","type":"nominal","scale":{"domain":["agent","goal","theme"],"range":["#F8766D","#00BA38","#619CFF"]},"legend":null}}},
    {"data":{"name":"box"},"transform":[{"filter":"datum.cr == 'CR2' && datum.verb == 'MAKE'"}],"mark":{"type":"tick","orient":"horizontal","color":"#bdbdbd","thickness":4,"size":20},
     "encoding":{"x":{"field":"pos","type":"quantitative","scale":{"domain":[0.4,3.6],"nice":false,"zero":false}},"y":{"field":"med","type":"quantitative","scale":{"domain":[0.108,0.687],"nice":false,"zero":false}}}}
   ]},
   {"width":86,"height":500,"view":{"stroke":"#333333","strokeWidth":3,"fill":"#ffffff"},"data":{"values":[{"label":"MAKE"}]},"mark":{"type":"text","fontSize":45,"angle":90,"color":"#1a1a1a"},"encoding":{"text":{"field":"label"}}},
   {"width":605,"height":500,"view":{"stroke":"#333333","strokeWidth":3},"layer":[
    {"data":{"name":"violin"},"transform":[{"filter":"datum.cr == 'CR1' && datum.verb == 'TELL'"}],"mark":{"type":"area","orient":"horizontal","interpolate":"monotone","stroke":"#262626","strokeWidth":2.5,"opacity":1},
     "encoding":{"y":{"field":"p","type":"quantitative","scale":{"domain":[0.108,0.687],"nice":false,"zero":false},"axis":{"title":null,"values":[0.15,0.2,0.25,0.3,0.35,0.4,0.45,0.5,0.55,0.6,0.65],"labelExpr":"round(datum.value*100) % 10 == 0 ? format(datum.value, '.1f') : ''","labelFontSize":44,"labelColor":"#4d4d4d","labelPadding":10,"labelOverlap":false,"tickSize":14,"tickWidth":3,"tickColor":"#333333","tickOpacity":{"condition":{"test":"round(datum.value*100) % 10 != 0","value":0},"value":1},"domain":false,"grid":true,"gridColor":"#ebebeb","gridWidth":{"condition":{"test":"round(datum.value*100) % 10 != 0","value":1.5},"value":3}}},
      "x":{"field":"lo","type":"quantitative","stack":null,"scale":{"domain":[0.4,3.6],"nice":false,"zero":false},"axis":{"title":null,"values":[1,2,3],"labels":false,"tickSize":14,"tickWidth":3,"tickColor":"#333333","domain":false,"grid":true,"gridColor":"#ebebeb","gridWidth":3}},
      "x2":{"field":"hi"},
      "fill":{"field":"aoi","type":"nominal","scale":{"domain":["agent","goal","theme"],"range":["#F8766D","#00BA38","#619CFF"]},"legend":{"title":"AOI","orient":"none","legendX":1639,"legendY":545,"padding":0,"titleFontSize":55,"titleFontWeight":"normal","titleColor":"#000000","titlePadding":20,"labelFontSize":45,"labelColor":"#000000","labelOffset":31,"symbolType":"square","symbolSize":1936,"symbolStrokeColor":"#333333","symbolStrokeWidth":2,"symbolOpacity":1,"rowPadding":0}}}},
    {"data":{"name":"box"},"transform":[{"filter":"datum.cr == 'CR1' && datum.verb == 'TELL'"}],"mark":{"type":"rule","color":"#bdbdbd","strokeWidth":2.5},
     "encoding":{"x":{"field":"pos","type":"quantitative","scale":{"domain":[0.4,3.6],"nice":false,"zero":false}},"y":{"field":"wlo","type":"quantitative","scale":{"domain":[0.108,0.687],"nice":false,"zero":false}},"y2":{"field":"whi"}}},
    {"data":{"name":"box"},"transform":[{"filter":"datum.cr == 'CR1' && datum.verb == 'TELL'"}],"mark":{"type":"bar","orient":"vertical","size":20,"stroke":"#bdbdbd","strokeWidth":2.5,"fillOpacity":1},
     "encoding":{"x":{"field":"pos","type":"quantitative","scale":{"domain":[0.4,3.6],"nice":false,"zero":false}},"y":{"field":"q1","type":"quantitative","scale":{"domain":[0.108,0.687],"nice":false,"zero":false}},"y2":{"field":"q3"},"fill":{"field":"aoi","type":"nominal","scale":{"domain":["agent","goal","theme"],"range":["#F8766D","#00BA38","#619CFF"]},"legend":null}}},
    {"data":{"name":"box"},"transform":[{"filter":"datum.cr == 'CR1' && datum.verb == 'TELL'"}],"mark":{"type":"tick","orient":"horizontal","color":"#bdbdbd","thickness":4,"size":20},
     "encoding":{"x":{"field":"pos","type":"quantitative","scale":{"domain":[0.4,3.6],"nice":false,"zero":false}},"y":{"field":"med","type":"quantitative","scale":{"domain":[0.108,0.687],"nice":false,"zero":false}}}}
   ]},
   {"width":605,"height":500,"view":{"stroke":"#333333","strokeWidth":3},"layer":[
    {"data":{"name":"violin"},"transform":[{"filter":"datum.cr == 'CR2' && datum.verb == 'TELL'"}],"mark":{"type":"area","orient":"horizontal","interpolate":"monotone","stroke":"#262626","strokeWidth":2.5,"opacity":1},
     "encoding":{"y":{"field":"p","type":"quantitative","scale":{"domain":[0.108,0.687],"nice":false,"zero":false},"axis":{"title":null,"values":[0.15,0.2,0.25,0.3,0.35,0.4,0.45,0.5,0.55,0.6,0.65],"labels":false,"tickSize":26,"tickColor":"transparent","domain":false,"grid":true,"gridColor":"#ebebeb","gridWidth":{"condition":{"test":"round(datum.value*100) % 10 != 0","value":1.5},"value":3}}},
      "x":{"field":"lo","type":"quantitative","stack":null,"scale":{"domain":[0.4,3.6],"nice":false,"zero":false},"axis":{"title":null,"values":[1,2,3],"labels":false,"tickSize":14,"tickWidth":3,"tickColor":"#333333","domain":false,"grid":true,"gridColor":"#ebebeb","gridWidth":3}},
      "x2":{"field":"hi"},
      "fill":{"field":"aoi","type":"nominal","scale":{"domain":["agent","goal","theme"],"range":["#F8766D","#00BA38","#619CFF"]},"legend":{"title":"AOI","orient":"none","legendX":1639,"legendY":545,"padding":0,"titleFontSize":55,"titleFontWeight":"normal","titleColor":"#000000","titlePadding":20,"labelFontSize":45,"labelColor":"#000000","labelOffset":31,"symbolType":"square","symbolSize":1936,"symbolStrokeColor":"#333333","symbolStrokeWidth":2,"symbolOpacity":1,"rowPadding":0}}}},
    {"data":{"name":"box"},"transform":[{"filter":"datum.cr == 'CR2' && datum.verb == 'TELL'"}],"mark":{"type":"rule","color":"#bdbdbd","strokeWidth":2.5},
     "encoding":{"x":{"field":"pos","type":"quantitative","scale":{"domain":[0.4,3.6],"nice":false,"zero":false}},"y":{"field":"wlo","type":"quantitative","scale":{"domain":[0.108,0.687],"nice":false,"zero":false}},"y2":{"field":"whi"}}},
    {"data":{"name":"box"},"transform":[{"filter":"datum.cr == 'CR2' && datum.verb == 'TELL'"}],"mark":{"type":"bar","orient":"vertical","size":20,"stroke":"#bdbdbd","strokeWidth":2.5,"fillOpacity":1},
     "encoding":{"x":{"field":"pos","type":"quantitative","scale":{"domain":[0.4,3.6],"nice":false,"zero":false}},"y":{"field":"q1","type":"quantitative","scale":{"domain":[0.108,0.687],"nice":false,"zero":false}},"y2":{"field":"q3"},"fill":{"field":"aoi","type":"nominal","scale":{"domain":["agent","goal","theme"],"range":["#F8766D","#00BA38","#619CFF"]},"legend":null}}},
    {"data":{"name":"box"},"transform":[{"filter":"datum.cr == 'CR2' && datum.verb == 'TELL'"}],"mark":{"type":"tick","orient":"horizontal","color":"#bdbdbd","thickness":4,"size":20},
     "encoding":{"x":{"field":"pos","type":"quantitative","scale":{"domain":[0.4,3.6],"nice":false,"zero":false}},"y":{"field":"med","type":"quantitative","scale":{"domain":[0.108,0.687],"nice":false,"zero":false}}}}
   ]},
   {"width":86,"height":500,"view":{"stroke":"#333333","strokeWidth":3,"fill":"#ffffff"},"data":{"values":[{"label":"TELL"}]},"mark":{"type":"text","fontSize":45,"angle":90,"color":"#1a1a1a"},"encoding":{"text":{"field":"label"}}}
   ]}
  ]}
 ]},
{"spacing":0,"bounds":"flush",
 "title":{"text":"Proportions of looking","orient":"left","anchor":"middle","frame":"bounds","fontSize":61,"fontWeight":"normal","color":"#000000","offset":9,"dx":17},
 "vconcat":[
 {"width":10,"height":15,"data":{"values":[]},"mark":"text","view":{"stroke":null}},
 {"width":936,"height":73,"view":{"fill":"#b3b3b3","stroke":null},"data":{"values":[{"label":"MAKE"}]},"mark":{"type":"text","fontSize":47,"color":"#ffffff"},"encoding":{"text":{"field":"label"}}},
 {"width":936,"height":501,"view":{"stroke":"#b3b3b3","strokeWidth":1.5},"layer":[
  {"data":{"name":"lines"},"transform":[{"filter":"datum.verb == 'MAKE'"}],"mark":{"type":"line","strokeWidth":3},
   "encoding":{"x":{"field":"t","type":"quantitative","scale":{"domain":[-1200,3200],"nice":false,"zero":false},"axis":{"title":null,"values":[-1000,-500,0,500,1000,1500,2000,2500,3000],"labels":false,"ticks":false,"domain":false,"grid":true,"gridColor":"#dedede","gridWidth":{"condition":{"test":"datum.value % 1000 != 0","value":1.2},"value":2.4}}},
    "y":{"field":"p","type":"quantitative","scale":{"domain":[0,1],"nice":false,"zero":false},"axis":{"title":null,"values":[0,0.125,0.25,0.375,0.5,0.625,0.75,0.875,1],"labelExpr":"(datum.value * 4) % 1 == 0 ? format(datum.value, '.2f') : ''","labelFontSize":46,"labelColor":"#4d4d4d","labelPadding":5,"labelOverlap":false,"tickSize":14,"tickWidth":2,"tickColor":"#b3b3b3","tickOpacity":{"condition":{"test":"(datum.value * 4) % 1 != 0","value":0},"value":1},"domain":false,"grid":true,"gridColor":"#dedede","gridWidth":{"condition":{"test":"(datum.value * 4) % 1 != 0","value":1.2},"value":2.4}}},
    "color":{"field":"aoi","type":"nominal","scale":{"domain":["agent","goal","theme","CR1","CR2","noun"],"range":["#D42A1E","#22CF22","#2233C6","#EE9F1A","#A020F0","#000000"]},"legend":{"title":"AOI","values":["agent","goal","theme"],"orient":"none","legendX":3098,"legendY":541,"padding":0,"titleFontSize":61,"titleFontWeight":"normal","titleColor":"#000000","titlePadding":0,"labelFontSize":48,"labelColor":"#000000","labelOffset":38,"symbolType":"stroke","symbolSize":1764,"symbolStrokeWidth":3,"rowPadding":4}},
    "strokeDash":{"field":"aoi","type":"nominal","scale":{"domain":["agent","goal","theme","CR1","CR2","noun"],"range":[[1,0],[20,10],[3,8,18,8],[1,0],[1,0],[1,0]]},"legend":{"title":"AOI","values":["agent","goal","theme"],"orient":"none","legendX":3098,"legendY":541,"padding":0,"titleFontSize":61,"titleFontWeight":"normal","titleColor":"#000000","titlePadding":0,"labelFontSize":48,"labelColor":"#000000","labelOffset":38,"symbolType":"stroke","symbolSize":1764,"symbolStrokeWidth":3,"rowPadding":4}}}},
  {"data":{"name":"lines"},"transform":[{"filter":"datum.verb == 'MAKE'"}],"mark":{"type":"errorband","band":{"opacity":0.32},"borders":{"strokeDash":[6,4],"strokeWidth":1.3,"opacity":0.75}},
   "encoding":{"x":{"field":"t","type":"quantitative","scale":{"domain":[-1200,3200],"nice":false,"zero":false}},"y":{"field":"p","type":"quantitative","scale":{"domain":[0,1],"nice":false,"zero":false}},"yError":{"field":"e"},"color":{"field":"aoi","type":"nominal","scale":{"domain":["agent","goal","theme","CR1","CR2","noun"],"range":["#D42A1E","#22CF22","#2233C6","#EE9F1A","#A020F0","#000000"]},"legend":null}}},
  {"data":{"name":"lines"},"transform":[{"filter":"datum.verb == 'MAKE'"}],"mark":{"type":"line","strokeWidth":3},
   "encoding":{"x":{"field":"t","type":"quantitative","scale":{"domain":[-1200,3200],"nice":false,"zero":false}},"y":{"field":"p","type":"quantitative","scale":{"domain":[0,1],"nice":false,"zero":false}},
    "color":{"field":"aoi","type":"nominal","scale":{"domain":["agent","goal","theme","CR1","CR2","noun"],"range":["#D42A1E","#22CF22","#2233C6","#EE9F1A","#A020F0","#000000"]},"legend":null},
    "strokeDash":{"field":"aoi","type":"nominal","scale":{"domain":["agent","goal","theme","CR1","CR2","noun"],"range":[[1,0],[20,10],[3,8,18,8],[1,0],[1,0],[1,0]]},"legend":null}}},
  {"data":{"name":"events"},"mark":{"type":"rule","strokeWidth":2.2},
   "encoding":{"x":{"field":"t","type":"quantitative","scale":{"domain":[-1200,3200],"nice":false,"zero":false}},"color":{"field":"event","type":"nominal","scale":{"domain":["agent","goal","theme","CR1","CR2","noun"],"range":["#D42A1E","#22CF22","#2233C6","#EE9F1A","#A020F0","#000000"]},"legend":null}}},
  {"data":{"name":"events"},"transform":[{"filter":"datum.top != ''"}],"mark":{"type":"text","align":"left","baseline":"middle","dx":14,"fontSize":38},
   "encoding":{"x":{"field":"t","type":"quantitative","scale":{"domain":[-1200,3200],"nice":false,"zero":false}},"y":{"field":"ytop","type":"quantitative","scale":{"domain":[0,1],"nice":false,"zero":false}},"text":{"field":"top"},"color":{"field":"event","type":"nominal","scale":{"domain":["agent","goal","theme","CR1","CR2","noun"],"range":["#D42A1E","#22CF22","#2233C6","#EE9F1A","#A020F0","#000000"]},"legend":null}}},
  {"data":{"name":"events"},"mark":{"type":"text","angle":90,"align":"center","baseline":"alphabetic","dy":-5,"fontSize":35},
   "encoding":{"x":{"field":"t","type":"quantitative","scale":{"domain":[-1200,3200],"nice":false,"zero":false}},"y":{"field":"yside","type":"quantitative","scale":{"domain":[0,1],"nice":false,"zero":false}},"text":{"field":"side"},"color":{"field":"event","type":"nominal","scale":{"domain":["agent","goal","theme","CR1","CR2","noun"],"range":["#D42A1E","#22CF22","#2233C6","#EE9F1A","#A020F0","#000000"]},"legend":null}}}
 ]},
 {"width":10,"height":18,"data":{"values":[]},"mark":"text","view":{"stroke":null}},
 {"width":936,"height":73,"view":{"fill":"#b3b3b3","stroke":null},"data":{"values":[{"label":"TELL"}]},"mark":{"type":"text","fontSize":47,"color":"#ffffff"},"encoding":{"text":{"field":"label"}}},
 {"width":936,"height":500,"view":{"stroke":"#b3b3b3","strokeWidth":1.5},"layer":[
  {"data":{"name":"lines"},"transform":[{"filter":"datum.verb == 'TELL'"}],"mark":{"type":"line","strokeWidth":3},
   "encoding":{"x":{"field":"t","type":"quantitative","scale":{"domain":[-1200,3200],"nice":false,"zero":false},"axis":{"title":"Time from verb onset (ms)","titleFontSize":61,"titleFontWeight":"normal","titleColor":"#000000","titlePadding":3,"values":[-1000,-500,0,500,1000,1500,2000,2500,3000],"labelExpr":"datum.value % 1000 == 0 ? '' + datum.value : ''","labelFontSize":46,"labelColor":"#4d4d4d","labelPadding":3,"labelOverlap":false,"labelFlush":false,"tickSize":12,"tickWidth":2,"tickColor":"#b3b3b3","tickOpacity":{"condition":{"test":"datum.value % 1000 != 0","value":0},"value":1},"domain":false,"grid":true,"gridColor":"#dedede","gridWidth":{"condition":{"test":"datum.value % 1000 != 0","value":1.2},"value":2.4}}},
    "y":{"field":"p","type":"quantitative","scale":{"domain":[0,1],"nice":false,"zero":false},"axis":{"title":null,"values":[0,0.125,0.25,0.375,0.5,0.625,0.75,0.875,1],"labelExpr":"(datum.value * 4) % 1 == 0 ? format(datum.value, '.2f') : ''","labelFontSize":46,"labelColor":"#4d4d4d","labelPadding":5,"labelOverlap":false,"tickSize":14,"tickWidth":2,"tickColor":"#b3b3b3","tickOpacity":{"condition":{"test":"(datum.value * 4) % 1 != 0","value":0},"value":1},"domain":false,"grid":true,"gridColor":"#dedede","gridWidth":{"condition":{"test":"(datum.value * 4) % 1 != 0","value":1.2},"value":2.4}}},
    "color":{"field":"aoi","type":"nominal","scale":{"domain":["agent","goal","theme","CR1","CR2","noun"],"range":["#D42A1E","#22CF22","#2233C6","#EE9F1A","#A020F0","#000000"]},"legend":{"title":"AOI","values":["agent","goal","theme"],"orient":"none","legendX":3098,"legendY":541,"padding":0,"titleFontSize":61,"titleFontWeight":"normal","titleColor":"#000000","titlePadding":0,"labelFontSize":48,"labelColor":"#000000","labelOffset":38,"symbolType":"stroke","symbolSize":1764,"symbolStrokeWidth":3,"rowPadding":4}},
    "strokeDash":{"field":"aoi","type":"nominal","scale":{"domain":["agent","goal","theme","CR1","CR2","noun"],"range":[[1,0],[20,10],[3,8,18,8],[1,0],[1,0],[1,0]]},"legend":{"title":"AOI","values":["agent","goal","theme"],"orient":"none","legendX":3098,"legendY":541,"padding":0,"titleFontSize":61,"titleFontWeight":"normal","titleColor":"#000000","titlePadding":0,"labelFontSize":48,"labelColor":"#000000","labelOffset":38,"symbolType":"stroke","symbolSize":1764,"symbolStrokeWidth":3,"rowPadding":4}}}},
  {"data":{"name":"lines"},"transform":[{"filter":"datum.verb == 'TELL'"}],"mark":{"type":"errorband","band":{"opacity":0.32},"borders":{"strokeDash":[6,4],"strokeWidth":1.3,"opacity":0.75}},
   "encoding":{"x":{"field":"t","type":"quantitative","scale":{"domain":[-1200,3200],"nice":false,"zero":false}},"y":{"field":"p","type":"quantitative","scale":{"domain":[0,1],"nice":false,"zero":false}},"yError":{"field":"e"},"color":{"field":"aoi","type":"nominal","scale":{"domain":["agent","goal","theme","CR1","CR2","noun"],"range":["#D42A1E","#22CF22","#2233C6","#EE9F1A","#A020F0","#000000"]},"legend":null}}},
  {"data":{"name":"lines"},"transform":[{"filter":"datum.verb == 'TELL'"}],"mark":{"type":"line","strokeWidth":3},
   "encoding":{"x":{"field":"t","type":"quantitative","scale":{"domain":[-1200,3200],"nice":false,"zero":false}},"y":{"field":"p","type":"quantitative","scale":{"domain":[0,1],"nice":false,"zero":false}},
    "color":{"field":"aoi","type":"nominal","scale":{"domain":["agent","goal","theme","CR1","CR2","noun"],"range":["#D42A1E","#22CF22","#2233C6","#EE9F1A","#A020F0","#000000"]},"legend":null},
    "strokeDash":{"field":"aoi","type":"nominal","scale":{"domain":["agent","goal","theme","CR1","CR2","noun"],"range":[[1,0],[20,10],[3,8,18,8],[1,0],[1,0],[1,0]]},"legend":null}}},
  {"data":{"name":"events"},"mark":{"type":"rule","strokeWidth":2.2},
   "encoding":{"x":{"field":"t","type":"quantitative","scale":{"domain":[-1200,3200],"nice":false,"zero":false}},"color":{"field":"event","type":"nominal","scale":{"domain":["agent","goal","theme","CR1","CR2","noun"],"range":["#D42A1E","#22CF22","#2233C6","#EE9F1A","#A020F0","#000000"]},"legend":null}}},
  {"data":{"name":"events"},"transform":[{"filter":"datum.top != ''"}],"mark":{"type":"text","align":"left","baseline":"middle","dx":14,"fontSize":38},
   "encoding":{"x":{"field":"t","type":"quantitative","scale":{"domain":[-1200,3200],"nice":false,"zero":false}},"y":{"field":"ytop","type":"quantitative","scale":{"domain":[0,1],"nice":false,"zero":false}},"text":{"field":"top"},"color":{"field":"event","type":"nominal","scale":{"domain":["agent","goal","theme","CR1","CR2","noun"],"range":["#D42A1E","#22CF22","#2233C6","#EE9F1A","#A020F0","#000000"]},"legend":null}}},
  {"data":{"name":"events"},"mark":{"type":"text","angle":90,"align":"center","baseline":"alphabetic","dy":-5,"fontSize":35},
   "encoding":{"x":{"field":"t","type":"quantitative","scale":{"domain":[-1200,3200],"nice":false,"zero":false}},"y":{"field":"yside","type":"quantitative","scale":{"domain":[0,1],"nice":false,"zero":false}},"text":{"field":"side"},"color":{"field":"event","type":"nominal","scale":{"domain":["agent","goal","theme","CR1","CR2","noun"],"range":["#D42A1E","#22CF22","#2233C6","#EE9F1A","#A020F0","#000000"]},"legend":null}}}
 ]}
 ]}
]}
]
}
